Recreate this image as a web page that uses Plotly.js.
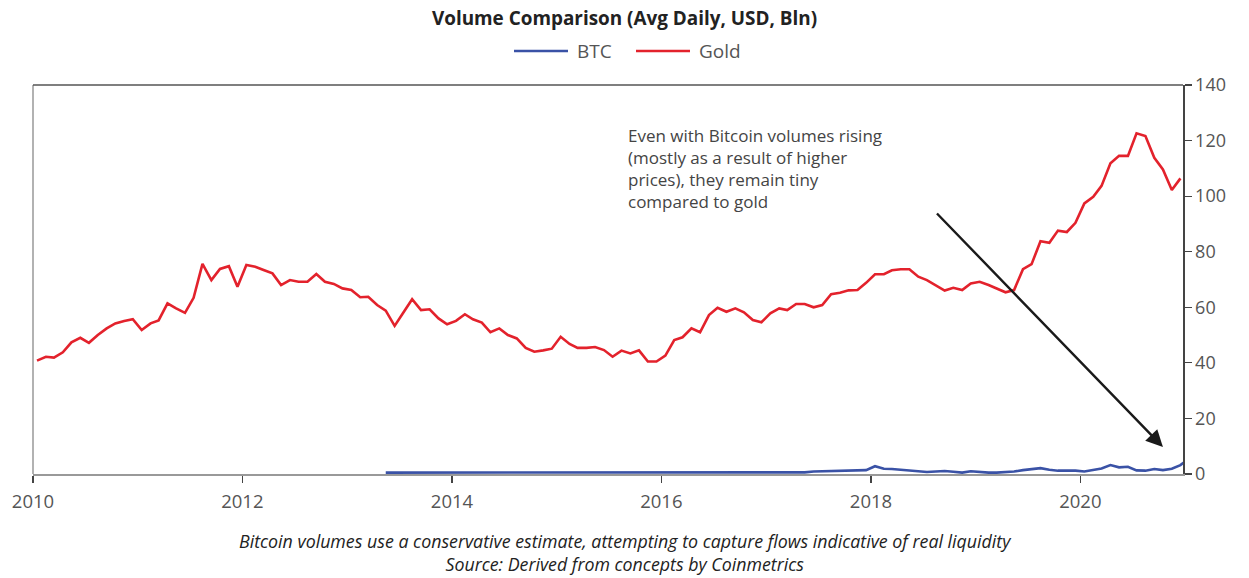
<!DOCTYPE html>
<html>
<head>
<meta charset="utf-8">
<script src="https://cdn.plot.ly/plotly-3.0.1.min.js"></script>
<style>html,body{margin:0;padding:0;background:#fff;}#chart{width:1249px;height:578px;}</style>
</head>
<body>
<div id="chart"></div>
<script>
// Monthly average daily volume, USD bn
const goldStart = [2010, 1];
const goldValues = [
  40.8, 42.2, 41.9, 43.8, 47.4, 49.0, 47.2, 50.0, 52.4, 54.2, 55.1, 55.7,
  51.8, 54.2, 55.3, 61.4, 59.6, 58.0, 63.4, 75.6, 69.8, 73.8, 74.8, 67.4,
  75.2, 74.6, 73.4, 72.2, 68.0, 69.8, 69.2, 69.2, 72.0, 69.2, 68.4, 66.8,
  66.2, 63.6, 63.8, 60.8, 58.8, 53.3, 58.0, 62.9, 59.0, 59.3, 56.0, 53.9,
  55.1, 57.5, 55.7, 54.5, 51.0, 52.4, 50.0, 48.8, 45.4, 44.0, 44.5, 45.1,
  49.4, 46.8, 45.4, 45.4, 45.7, 44.6, 42.2, 44.4, 43.4, 44.5, 40.5, 40.5,
  42.6, 48.2, 49.2, 52.4, 51.0, 57.2, 59.8, 58.4, 59.6, 58.2, 55.4, 54.6,
  57.8, 59.6, 59.0, 61.2, 61.2, 60.0, 60.8, 64.7, 65.2, 66.1, 66.2, 68.8,
  71.9, 71.9, 73.3, 73.7, 73.7, 71.0, 69.8, 68.0, 66.0, 67.0, 66.2, 68.6,
  69.2, 68.0, 66.8, 65.4, 66.2, 73.7, 75.5, 83.8, 83.2, 87.6, 87.1, 90.4,
  97.4, 99.8, 103.7, 111.8, 114.5, 114.5, 122.6, 121.6, 113.8, 109.6, 102.2, 106.4
];
const btcStart = [2013, 5];
const btcValues = [
                      0.5, 0.5, 0.5, 0.5, 0.5, 0.5, 0.5, 0.5,
  0.5, 0.5, 0.5, 0.5, 0.5, 0.5, 0.5, 0.5, 0.5, 0.5, 0.5, 0.5,
  0.5, 0.5, 0.5, 0.5, 0.5, 0.5, 0.5, 0.5, 0.5, 0.5, 0.5, 0.5,
  0.5, 0.5, 0.5, 0.5, 0.5, 0.5, 0.5, 0.5, 0.5, 0.5, 0.5, 0.5,
  0.5, 0.5, 0.5, 0.5, 0.6, 0.9, 1.0, 1.1, 1.1, 1.1, 1.2, 1.4,
  2.8, 1.9, 1.8, 1.5, 1.2, 0.9, 0.7, 0.9, 1.1, 0.8, 0.5, 1.0,
  0.7, 0.5, 0.5, 0.6, 0.9, 1.4, 1.8, 2.1, 1.5, 1.2, 1.2, 1.2,
  0.9, 1.4, 2.0, 3.2, 2.4, 2.6, 1.3, 1.2, 1.8, 1.4, 1.9, 3.2, 5.7
];
const seriesNames = ['BTC', 'Gold'];
const seriesColors = ['#3a52a6', '#e3222c'];
const titleText = 'Volume Comparison (Avg Daily, USD, Bln)';
const noteText = 'Even with Bitcoin volumes rising<br>(mostly as a result of higher<br>prices), they remain tiny<br>compared to gold';
const footText = 'Bitcoin volumes use a conservative estimate, attempting to capture flows indicative of real liquidity<br>Source: Derived from concepts by Coinmetrics';
const yTicks = [0, 20, 40, 60, 80, 100, 120, 140];

function monthDates(start, n) {
  const out = [];
  let y = start[0], m = start[1];
  for (let i = 0; i < n; i++) {
    out.push(y + '-' + String(m).padStart(2, '0') + '-15');
    m++; if (m > 12) { m = 1; y++; }
  }
  return out;
}

const FONT = '"Open Sans", Lato, sans-serif';
// plot area in pixels: x 33..1183, y 85..474
const px = v => (v - 33) / 1150;
const py = v => (474 - v) / 389;

const traces = [
  {x: monthDates(btcStart, btcValues.length), y: btcValues, name: seriesNames[0], type: 'scatter', mode: 'lines',
   line: {color: seriesColors[0], width: 2.6}},
  {x: monthDates(goldStart, goldValues.length), y: goldValues, name: seriesNames[1], type: 'scatter', mode: 'lines',
   line: {color: seriesColors[1], width: 2.6}}
];

// manual legend (line samples + labels)
const legendLineX = [[514, 568], [636, 690]];
const legendTextX = [575, 697];
const shapes = [
  {type: 'line', xref: 'paper', yref: 'paper', x0: 0, x1: 0, y0: 0, y1: 1, line: {color: '#999', width: 1.5}},
  {type: 'line', xref: 'paper', yref: 'paper', x0: 0, x1: 1, y0: 1, y1: 1, line: {color: '#555', width: 1.5}}
];
const annotations = [];
seriesNames.forEach((n, i) => {
  shapes.push({type: 'line', xref: 'paper', yref: 'paper', x0: px(legendLineX[i][0]), x1: px(legendLineX[i][1]),
    y0: py(51), y1: py(51), line: {color: seriesColors[i], width: 2.6}});
  annotations.push({xref: 'paper', yref: 'paper', x: px(legendTextX[i]), y: py(51), xanchor: 'left', yanchor: 'middle',
    showarrow: false, text: n, font: {family: FONT, size: 19, color: '#555'}});
});

annotations.push({xref: 'paper', yref: 'paper', x: px(626), y: py(168), xanchor: 'left', yanchor: 'middle', align: 'left',
  showarrow: false, text: noteText, font: {family: FONT, size: 17, color: '#444'}});
annotations.push({xref: 'x', yref: 'y', axref: 'x', ayref: 'y', x: '2020-10-15', y: 9.7, ax: '2018-08-14', ay: 94.3,
  showarrow: true, arrowhead: 2, arrowsize: 1.4, arrowwidth: 2.4, arrowcolor: '#1a1a1a', text: ''});
annotations.push({xref: 'paper', yref: 'paper', x: px(625.5), y: py(552.5), xanchor: 'center', yanchor: 'middle', align: 'center',
  showarrow: false, text: '<i>' + footText + '</i>', font: {family: FONT, size: 17.8, color: '#222'}});

const layout = {
  width: 1249, height: 578,
  margin: {l: 33, r: 66, t: 85, b: 104},
  paper_bgcolor: '#fff', plot_bgcolor: '#fff',
  font: {family: FONT, color: '#444', size: 17},
  title: {text: '<b>' + titleText + '</b>', x: 0.5, xanchor: 'center', y: 1 - 18 / 578, yanchor: 'middle',
          font: {family: FONT, size: 18.9, color: '#222'}},
  showlegend: false,
  xaxis: {type: 'date', range: ['2010-01-01', '2020-12-24'], dtick: 'M24', tick0: '2010-01-01', tickformat: '%Y',
          showgrid: false, zeroline: false, showline: true, linecolor: '#999', linewidth: 1.5,
          ticks: 'outside', ticklen: 7, tickcolor: '#444', tickwidth: 1.2, ticklabelstandoff: 3,
          tickfont: {family: FONT, size: 18.5, color: '#555'}},
  yaxis: {range: [0, 140], tickvals: yTicks, side: 'right', showgrid: false, zeroline: false,
          showline: true, linecolor: '#444', linewidth: 1.5,
          ticks: 'outside', ticklen: 7, tickcolor: '#444', tickwidth: 1.2,
          tickfont: {family: FONT, size: 18, color: '#555'}},
  shapes: shapes,
  annotations: annotations
};

Plotly.newPlot('chart', traces, layout, {displayModeBar: false, staticPlot: true});
</script>
</body>
</html>
